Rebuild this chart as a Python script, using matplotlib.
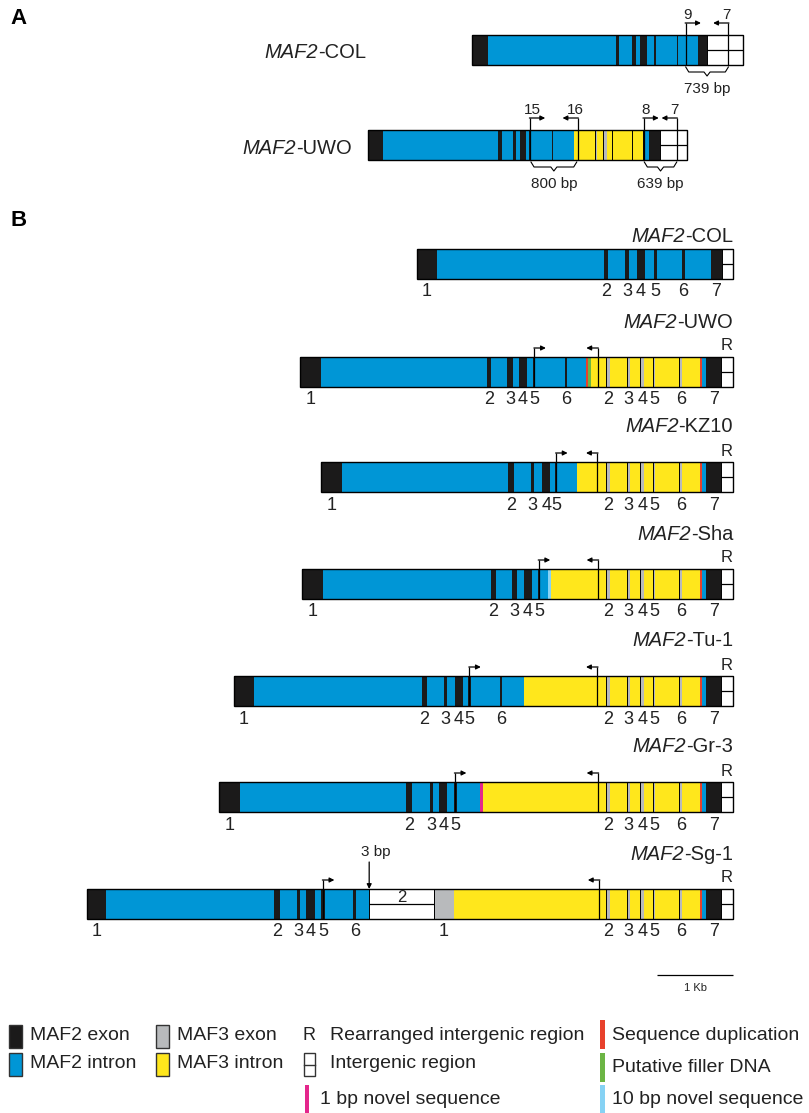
import matplotlib.pyplot as plt
from matplotlib.patches import Rectangle

# All positions in bp, counted from the 3' end of each construct (0 = end of the intergenic region).
# kinds: e2/i2 MAF2 exon/intron, e3/i3 MAF3 exon/intron, ig intergenic, r rearranged intergenic,
#        dup sequence duplication, fill putative filler DNA, n1 1 bp novel, n10 10 bp novel

# ---- panel A ----
a_col_edges = [-3558, -3347, -1671, -1628, -1453, -1408, -1347, -1263, -1167, -1141, -868, -851, -592, -474, 0]
a_col_kinds = ['e2', 'i2', 'e2', 'i2', 'e2', 'i2', 'e2', 'i2', 'e2', 'i2', 'e2', 'i2', 'e2', 'ig']
a_col_primers = [('9', -750, 1), ('7', -189, -1)]
a_col_spans = [(-750, -189, '739 bp')]

a_uwo_edges = [-4197, -4000, -2487, -2442, -2289, -2254, -2201, -2122, -2083, -2057, -1784, -1763, -1487,
               -1214, -1192, -1105, -1061, -995, -974, -732, -711, -587, -557, -500, -359, 0]
a_uwo_kinds = ['e2', 'i2', 'e2', 'i2', 'e2', 'i2', 'e2', 'i2', 'e2', 'i2', 'e2', 'i2', 'i3',
               'e3', 'i3', 'e3', 'i3', 'e3', 'i3', 'e3', 'i3', 'e3', 'i2', 'e2', 'ig']
a_uwo_primers = [('15', -2070, 1), ('16', -1442, -1), ('8', -576, 1), ('7', -139, -1)]
a_uwo_spans = [(-2057, -1455, '800 bp'), (-566, -139, '639 bp')]

# ---- panel B ----
col_edges = [-4162, -3891, -1697, -1641, -1421, -1364, -1267, -1158, -1039, -1004, -675, -632, -293, -145, 0]
col_kinds = ['e2', 'i2', 'e2', 'i2', 'e2', 'i2', 'e2', 'i2', 'e2', 'i2', 'e2', 'i2', 'e2', 'ig']
col_exons = ['1', '2', '3', '4', '5', '6', '7']

# MAF3 exon 2 .. 3' end, same in all rearranged accessions
tail_edges = [-1671, -1612, -1389, -1354, -1221, -1167, -1053, -1025, -705, -670, -434, -412, -350, -155, 0]
tail_kinds = ['e3', 'i3', 'e3', 'i3', 'e3', 'i3', 'e3', 'i3', 'e3', 'i3', 'dup', 'i2', 'e2', 'r']
tail_exons = ['2', '3', '4', '5', '6', '7']

uwo_edges = [-5697, -5421, -3241, -3178, -2974, -2895, -2822, -2707, -2626, -2599, -2204, -2178, -1938, -1908, -1871]
uwo_kinds = ['e2', 'i2', 'e2', 'i2', 'e2', 'i2', 'e2', 'i2', 'e2', 'i2', 'e2', 'i2', 'dup', 'fill', 'i3']
uwo_exons = ['1', '2', '3', '4', '5', '6']
uwo_primers = [-2612, -1780]

kz_edges = [-5421, -5145, -2954, -2878, -2658, -2612, -2508, -2409, -2338, -2313, -2053]
kz_kinds = ['e2', 'i2', 'e2', 'i2', 'e2', 'i2', 'e2', 'i2', 'e2', 'i2', 'i3']
kz_exons = ['1', '2', '3', '4', '5']
kz_primers = [-2326, -1784]

sha_edges = [-5671, -5397, -3188, -3120, -2914, -2847, -2755, -2651, -2568, -2537, -2437, -2391]
sha_kinds = ['e2', 'i2', 'e2', 'i2', 'e2', 'i2', 'e2', 'i2', 'e2', 'i2', 'n10', 'i3']
sha_exons = ['1', '2', '3', '4', '5']
sha_primers = [-2555, -1776]

tu_edges = [-6566, -6303, -4088, -4029, -3805, -3757, -3657, -3558, -3484, -3443, -3072, -3038, -2750]
tu_kinds = ['e2', 'i2', 'e2', 'i2', 'e2', 'i2', 'e2', 'i2', 'e2', 'i2', 'e2', 'i2', 'i3']
tu_exons = ['1', '2', '3', '4', '5', '6']
tu_primers = [-3468, -1784]

gr_edges = [-6763, -6491, -4300, -4222, -3982, -3951, -3863, -3761, -3674, -3633, -3325, -3284]
gr_kinds = ['e2', 'i2', 'e2', 'i2', 'e2', 'i2', 'e2', 'i2', 'e2', 'i2', 'n1', 'i3']
gr_exons = ['1', '2', '3', '4', '5']
gr_primers = [-3658, -1776]

sg_edges = [-8500, -8250, -6037, -5957, -5737, -5693, -5612, -5500, -5425, -5362, -4999, -4955, -4787, -3937, -3675]
sg_kinds = ['e2', 'i2', 'e2', 'i2', 'e2', 'i2', 'e2', 'i2', 'e2', 'i2', 'e2', 'i2', 'ig', 'e3', 'i3']
sg_exons = ['1', '2', '3', '4', '5', '6', '1']
sg_primers = [-5395, -1760]

COLORS = {'e2': '#1b1a1a', 'i2': '#0096d6', 'e3': '#b8babc', 'i3': '#ffe71c', 'ig': 'white', 'r': 'white',
          'dup': '#e8412c', 'fill': '#6cb545', 'n1': '#e4268c', 'n10': '#86d2f4'}

SANS = ['Liberation Sans', 'DejaVu Sans']
H = 30  # box height in px
TXT = '#222222'


def draw_gene(ax, edges, kinds, top, shift=0):
    xs = [e + shift for e in edges]
    yc = top + H / 2
    for x0, x1, k in zip(xs[:-1], xs[1:], kinds):
        boxed = k in ('e3', 'ig', 'r')
        ax.barh(yc, x1 - x0, left=x0, height=H, color=COLORS[k],
                edgecolor='black' if boxed else 'none', linewidth=0.7 if boxed else 0)
        if k in ('ig', 'r'):
            ax.hlines(yc, x0, x1, color='black', lw=0.9, zorder=3)
        if k == 'r':
            ax.text((x0 + x1) / 2, top - 11, 'R', ha='center', va='center', fontsize=12, family=SANS, color=TXT)
    ax.barh(yc, xs[-1] - xs[0], left=xs[0], height=H, fill=False, edgecolor='black', linewidth=1.0, zorder=3)


def label_exons(ax, edges, kinds, labels, top):
    centers = [(a + b) / 2 for a, b, k in zip(edges[:-1], edges[1:], kinds) if k in ('e2', 'e3')]
    for c, lab in zip(centers, labels):
        ax.text(c, top + H + 13, lab, ha='center', va='center', fontsize=13, family=SANS, color=TXT)


def primer(ax, x, direction, top, rise, length):
    ax.vlines(x, top - rise, top + H, color='black', lw=0.9, zorder=4)
    ax.annotate('', xy=(x + direction * length, top - rise), xytext=(x - direction * 8, top - rise),
                arrowprops=dict(arrowstyle='-|>', color='black', lw=0.9, shrinkA=0, shrinkB=0,
                                mutation_scale=7))


def span(ax, x0, x1, y, text):
    xm = (x0 + x1) / 2
    ax.plot([x0, x0 + 40, xm - 40, xm, xm + 40, x1 - 40, x1], [y, y + 5, y + 5, y + 9, y + 5, y + 5, y],
            color='black', lw=0.8)
    ax.text(xm, y + 22, text, ha='center', va='center', fontsize=11, family=SANS, color=TXT)


def gene_name(ax, x, y, rest):
    t = ax.text(x, y, rest, ha='right', va='center', fontsize=14.5, family=SANS, color=TXT)
    ax.annotate('MAF2', xy=(0, 0.5), xycoords=t, ha='right', va='center', fontsize=14.5,
                family=SANS, style='italic', color=TXT)


fig = plt.figure(figsize=(8.09, 11.13), dpi=100)
ax = fig.add_axes([0, 0, 1, 1])
ax.set_xlim(-733 / 76 * 1000, 1000)   # 76 px per kb, 3' ends at x = 733 px
ax.set_ylim(1113, 0)
ax.axis('off')

# panel A
for edges, kinds, prim, spans, top, shift, name_x, rest in [
        (a_col_edges, a_col_kinds, a_col_primers, a_col_spans, 35, 128, -4830, '-COL'),
        (a_uwo_edges, a_uwo_kinds, a_uwo_primers, a_uwo_spans, 130, -601, -5010, '-UWO')]:
    draw_gene(ax, edges, kinds, top, shift)
    for lab, x, d in prim:
        primer(ax, x + shift, d, top, 12, 200)
        ax.text(x + shift + d * 26, top - 20, lab, ha='center', va='center', fontsize=11, family=SANS, color=TXT)
    for x0, x1, text in spans:
        span(ax, x0 + shift, x1 + shift, top + H + 2, text)
    gene_name(ax, name_x, top + H / 2 + 3, rest)

# panel B
draw_gene(ax, col_edges, col_kinds, 249)
label_exons(ax, col_edges, col_kinds, col_exons, 249)
gene_name(ax, 0, 237, '-COL')

rows = [('-UWO', uwo_edges, uwo_kinds, uwo_exons, uwo_primers, 357),
        ('-KZ10', kz_edges, kz_kinds, kz_exons, kz_primers, 462),
        ('-Sha', sha_edges, sha_kinds, sha_exons, sha_primers, 569),
        ('-Tu-1', tu_edges, tu_kinds, tu_exons, tu_primers, 676),
        ('-Gr-3', gr_edges, gr_kinds, gr_exons, gr_primers, 782),
        ('-Sg-1', sg_edges, sg_kinds, sg_exons, sg_primers, 889)]
for name, edges, kinds, exons, prim, top in rows:
    e = edges + tail_edges
    k = kinds + tail_kinds
    draw_gene(ax, e, k, top)
    label_exons(ax, e, k, exons + tail_exons, top)
    primer(ax, prim[0], 1, top, 9, 150)
    primer(ax, prim[1], -1, top, 9, 150)
    gene_name(ax, 0, top - 35, name)

# Sg-1 extras: MAF2/MAF3 intergenic piece and the 3 bp mark
sg_top = 889
ig_i = sg_kinds.index('ig')
ax.text((sg_edges[ig_i] + sg_edges[ig_i + 1]) / 2, sg_top + 8, '2', ha='center', va='center',
        fontsize=12, family=SANS, color=TXT)
ax.annotate('', xy=(sg_edges[ig_i], sg_top), xytext=(sg_edges[ig_i], sg_top - 27),
            arrowprops=dict(arrowstyle='-|>', color='black', lw=0.9, shrinkA=0, shrinkB=0, mutation_scale=7))
ax.text(sg_edges[ig_i] + 80, sg_top - 37, '3 bp', ha='center', va='center', fontsize=11, family=SANS, color=TXT)

# scale bar
ax.hlines(975, -1000, 0, color='black', lw=0.9)
ax.text(-500, 988, '1 Kb', ha='center', va='center', fontsize=8, family=SANS, color=TXT)

# panel letters
fig.text(10 / 809, 1 - 18 / 1113, 'A', ha='left', va='center', fontsize=16, fontweight='bold', family=SANS)
fig.text(10 / 809, 1 - 220 / 1113, 'B', ha='left', va='center', fontsize=16, fontweight='bold', family=SANS)

# legend (pixel coordinates)
lg = fig.add_axes([0, 0, 1, 1])
lg.set_xlim(0, 809)
lg.set_ylim(1113, 0)
lg.axis('off')
LFS = 14
boxes = [(9, 1025, 'e2', 'MAF2 exon'), (9, 1053, 'i2', 'MAF2 intron'),
         (156, 1025, 'e3', 'MAF3 exon'), (156, 1053, 'i3', 'MAF3 intron')]
for x, y, k, text in boxes:
    lg.add_patch(Rectangle((x, y), 13, 23, facecolor=COLORS[k], edgecolor='#333333', lw=1.0))
    lg.text(x + 21, y + 11, text, ha='left', va='center', fontsize=LFS, family=SANS, color=TXT)

lg.text(309, 1036, 'R', ha='center', va='center', fontsize=13, family=SANS, color=TXT)
lg.text(330, 1036, 'Rearranged intergenic region', ha='left', va='center', fontsize=LFS, family=SANS, color=TXT)
lg.add_patch(Rectangle((304, 1053), 11, 23, facecolor='white', edgecolor='#333333', lw=1.0))
lg.plot([304, 315], [1064.5, 1064.5], color='#333333', lw=1.0)
lg.text(330, 1064, 'Intergenic region', ha='left', va='center', fontsize=LFS, family=SANS, color=TXT)
lg.add_patch(Rectangle((305, 1085), 4, 28, facecolor=COLORS['n1'], edgecolor='none'))
lg.text(320, 1100, '1 bp novel sequence', ha='left', va='center', fontsize=LFS, family=SANS, color=TXT)

for y, k, text in [(1020, 'dup', 'Sequence duplication'), (1053, 'fill', 'Putative filler DNA'),
                   (1085, 'n10', '10 bp novel sequence')]:
    lg.add_patch(Rectangle((600, y), 5, 29, facecolor=COLORS[k], edgecolor='none'))
    lg.text(612, y + 15, text, ha='left', va='center', fontsize=LFS, family=SANS, color=TXT)

fig.savefig('out.png', dpi=100)
